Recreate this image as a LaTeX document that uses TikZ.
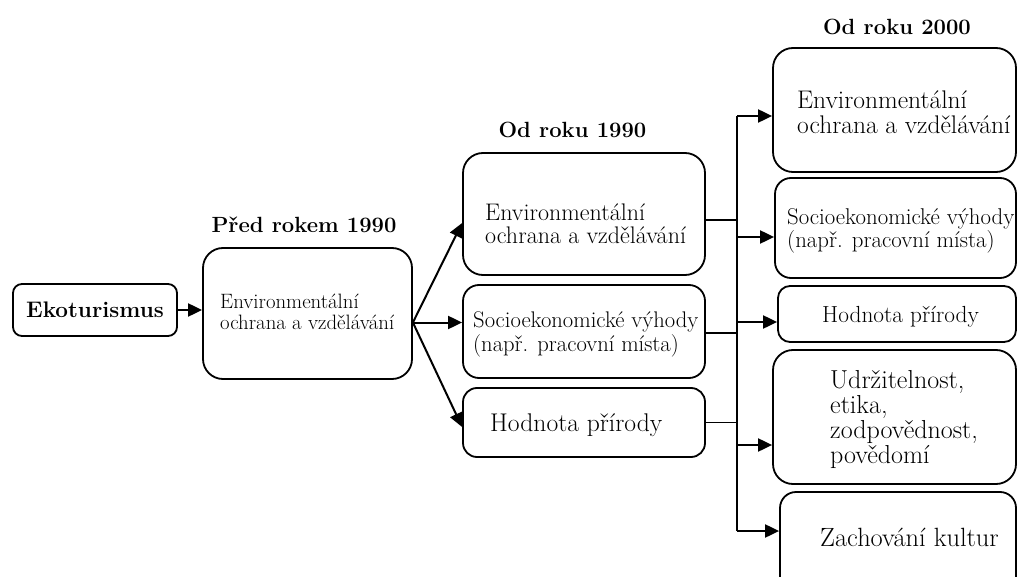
\documentclass[tikz,border=0pt]{standalone}
\usepackage{fontspec}
\usetikzlibrary{arrows.meta}

\tikzset{
  box/.style={draw, line width=1.8pt, inner sep=0pt},
  txt/.style={anchor=west, align=left, inner sep=0pt},
  title/.style={inner sep=0pt, font=\fontsize{22}{24}\selectfont\bfseries},
  arr/.style={line width=2pt, -{Triangle[length=14pt, width=13pt]}},
  link/.style={line width=2pt}
}

\begin{document}
\begin{tikzpicture}[x=1pt, y=-1pt]
\useasboundingbox (0,0) rectangle (1019,577);

% first column
\node[box, rounded corners=9pt, minimum width=164pt, minimum height=52pt,
  font=\fontsize{22.5}{24}\selectfont\bfseries] (eko) at (95,310) {Ekoturismus};

\node[title] (predtitle) at (304,225) {Před rokem 1990};
\node[box, rounded corners=20pt, minimum width=209pt, minimum height=131pt] (pred) at (307.5,313.5) {};
\node[txt, font=\fontsize{20.8}{21}\selectfont] (predtext) at (220,312)
  {Environmentální\\ochrana a vzdělávání};

% since 1990
\node[title] (od90title) at (572.5,130) {Od roku 1990};
\node[box, rounded corners=20pt, minimum width=242pt, minimum height=122pt] (env90) at (584,214) {};
\node[box, rounded corners=16pt, minimum width=242pt, minimum height=93pt] (soc90) at (584,331.5) {};
\node[box, rounded corners=14pt, minimum width=242pt, minimum height=69pt] (hod90) at (584,422.5) {};
\node[txt, font=\fontsize{24}{23}\selectfont] (env90text) at (485,223.5)
  {Environmentální\\ochrana a vzdělávání};
\node[txt, font=\fontsize{22.6}{24}\selectfont] (soc90text) at (473,334)
  {Socioekonomické výhody\\(např. pracovní místa)};
\node[txt, font=\fontsize{25.6}{26}\selectfont] (hod90text) at (490,425) {Hodnota přírody};

% since 2000
\node[title] (od00title) at (897,27) {Od roku 2000};
\node[box, rounded corners=20pt, minimum width=243pt, minimum height=124pt] (env00) at (894.5,110) {};
\node[box, rounded corners=16pt, minimum width=241pt, minimum height=100pt] (soc00) at (895.5,228) {};
\node[box, rounded corners=12pt, minimum width=238pt, minimum height=56pt] (hod00) at (897,314) {};
\node[box, rounded corners=20pt, minimum width=243pt, minimum height=134pt] (udr00) at (894.5,417) {};
\node[box, rounded corners=16pt, minimum width=236pt, minimum height=108pt] (zach00) at (898,546) {};
\node[txt, font=\fontsize{25.5}{25}\selectfont] (env00text) at (797,112)
  {Environmentální\\ochrana a vzdělávání};
\node[txt, font=\fontsize{22.8}{23}\selectfont] (soc00text) at (787,231)
  {Socioekonomické výhody\\(např. pracovní místa)};
\node[txt, font=\fontsize{23.3}{24}\selectfont] (hod00text) at (822,317) {Hodnota přírody};
\node[txt, font=\fontsize{26}{25}\selectfont] (udr00text) at (830,420)
  {Udržitelnost,\\etika,\\zodpovědnost,\\povědomí};
\node[txt, font=\fontsize{26.4}{26}\selectfont] (zach00text) at (820,537) {Zachování kultur};

% arrows
\draw[arr] (eko.east) -- (eko.east -| pred.west);

\coordinate (split) at ([yshift=-9pt]pred.east);
\draw[arr] (split) -- ([yshift=-9pt]env90.west);
\draw[arr] (split) -- (split -| soc90.west);
\draw[arr] (split) -- ([yshift=-4.5pt]hod90.west);

\coordinate (bus) at (737,0);
\coordinate (a1) at ([yshift=-6pt]env00.west);
\coordinate (a2) at ([yshift=-9pt]soc00.west);
\coordinate (a3) at ([yshift=-8pt]hod00.west);
\coordinate (a4) at ([yshift=-28pt]udr00.west);
\coordinate (a5) at ([yshift=15pt]zach00.west);

\draw[link] ([yshift=-6pt]env90.east) -- ([yshift=-6pt]env90.east -| bus);
\draw[link] ([yshift=-1.5pt]soc90.east) -- ([yshift=-1.5pt]soc90.east -| bus);
\draw[line width=1.2pt] (hod90.east) -- (hod90.east -| bus);
\draw[link] (a1 -| bus) -- (a5 -| bus);

\foreach \t in {a1,a2,a3,a4,a5}
  \draw[arr] (\t -| bus) -- (\t);

\end{tikzpicture}
\end{document}
